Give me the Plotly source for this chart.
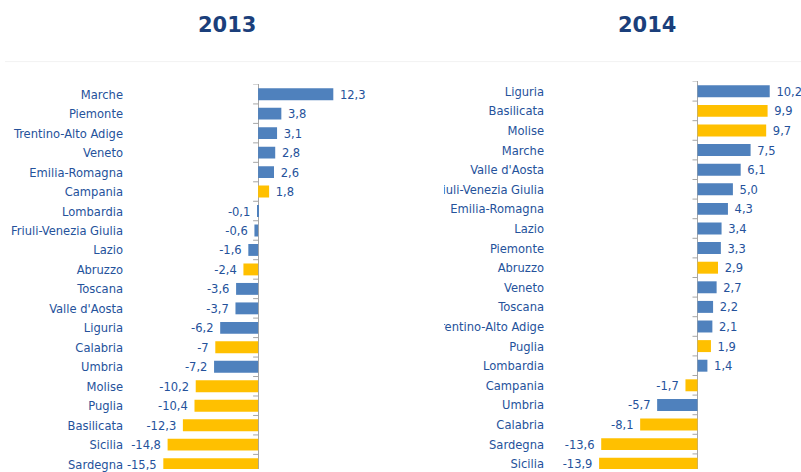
import plotly.graph_objects as go

# ---- data ----
regions_2013 = ["Marche", "Piemonte", "Trentino-Alto Adige", "Veneto", "Emilia-Romagna",
                "Campania", "Lombardia", "Friuli-Venezia Giulia", "Lazio", "Abruzzo",
                "Toscana", "Valle d'Aosta", "Liguria", "Calabria", "Umbria",
                "Molise", "Puglia", "Basilicata", "Sicilia", "Sardegna"]
values_2013 = [12.3, 3.8, 3.1, 2.8, 2.6, 1.8, -0.1, -0.6, -1.6, -2.4,
               -3.6, -3.7, -6.2, -7, -7.2, -10.2, -10.4, -12.3, -14.8, -15.5]

regions_2014 = ["Liguria", "Basilicata", "Molise", "Marche", "Valle d'Aosta",
                "Friuli-Venezia Giulia", "Emilia-Romagna", "Lazio", "Piemonte", "Abruzzo",
                "Veneto", "Toscana", "Trentino-Alto Adige", "Puglia", "Lombardia",
                "Campania", "Umbria", "Calabria", "Sardegna", "Sicilia"]
values_2014 = [10.2, 9.9, 9.7, 7.5, 6.1, 5.0, 4.3, 3.4, 3.3, 2.9,
               2.7, 2.2, 2.1, 1.9, 1.4, -1.7, -5.7, -8.1, -13.6, -13.9]

mezzogiorno = ["Abruzzo", "Molise", "Campania", "Puglia", "Basilicata",
               "Calabria", "Sicilia", "Sardegna"]

titles = ["2013", "2014"]

# ---- style ----
W, H = 801, 472
BLUE = "#4F81BD"
YELLOW = "#FFC000"
TXT = "#25529B"
TITLE = "#1B3F7B"
AXIS = "#A6A6A6"
FONT = "DejaVu Sans Condensed, DejaVu Sans, sans-serif"
FS = 12.8
NBSP = "\u00a0"


def colors(regs):
    return [YELLOW if r in mezzogiorno else BLUE for r in regs]


def fmt_g(v):
    return f"{v:g}".replace(".", ",")


def fmt_1(v):
    return f"{v:.1f}".replace(".", ",")


def pad(s, v):
    return (NBSP + s) if v >= 0 else (s + NBSP)


fig = go.Figure()

fig.add_trace(go.Bar(
    y=list(range(len(regions_2013))), x=values_2013, orientation="h",
    marker=dict(color=colors(regions_2013), line=dict(width=0)),
    text=[pad(fmt_g(v), v) for v in values_2013], textposition="outside",
    textfont=dict(family=FONT, size=FS, color=TXT), constraintext="none",
    cliponaxis=False, xaxis="x", yaxis="y", hoverinfo="skip", showlegend=False,
))
fig.add_trace(go.Bar(
    y=list(range(len(regions_2014))), x=values_2014, orientation="h",
    marker=dict(color=colors(regions_2014), line=dict(width=0)),
    text=[pad(fmt_1(v), v) for v in values_2014], textposition="outside",
    textfont=dict(family=FONT, size=FS, color=TXT), constraintext="none",
    cliponaxis=False, xaxis="x2", yaxis="y2", hoverinfo="skip", showlegend=False,
))

common_x = dict(showticklabels=False, showgrid=False, zeroline=True,
                zerolinecolor=AXIS, zerolinewidth=1, ticks="", fixedrange=True)
common_y = dict(showgrid=False, zeroline=False, ticks="", showline=False,
                ticklabeloverflow="allow",
                tickfont=dict(family=FONT, size=FS, color=TXT), fixedrange=True)

L0, Z0, S0 = 124, 258.1, 6.115
L1, Z1, S1 = 545, 697.5, 7.08

fig.update_layout(
    width=W, height=H,
    margin=dict(l=0, r=0, t=0, b=0),
    paper_bgcolor="white", plot_bgcolor="white",
    bargap=0.39,
    xaxis=dict(domain=[L0 / W, 380 / W], range=[-(Z0 - L0) / S0, (380 - Z0) / S0],
               anchor="y", **common_x),
    yaxis=dict(domain=[0, (H - 85) / H], range=[19.25, -0.5], anchor="x",
               tickvals=list(range(len(regions_2013))), ticktext=regions_2013, **common_y),
    xaxis2=dict(domain=[L1 / W, 1.0], range=[-(Z1 - L1) / S1, (W - Z1) / S1],
                anchor="y2", **common_x),
    yaxis2=dict(domain=[0, (H - 82) / H], range=[19.27, -0.5], anchor="x2",
                tickvals=list(range(len(regions_2014))), ticktext=regions_2014, **common_y),
)

shapes = []
# small category tick marks left of the zero axis
for xr, yr, n in (("x", "y", len(regions_2013)), ("x2", "y2", len(regions_2014))):
    for i in range(n + 1):
        shapes.append(dict(type="line", xref=xr, yref=yr, xsizemode="pixel", xanchor=0,
                           x0=-5, x1=0, y0=i - 0.5, y1=i - 0.5,
                           line=dict(color=AXIS, width=1)))
# faint separator under the titles
shapes.append(dict(type="line", xref="paper", yref="paper", x0=5 / W, x1=1,
                   y0=1 - 62 / H, y1=1 - 62 / H, line=dict(color="#F2F2F2", width=1)))
# left edge clipping of the right-hand panel
shapes.append(dict(type="rect", xref="paper", yref="paper", x0=392 / W, x1=444 / W,
                   y0=0, y1=1 - 70 / H, fillcolor="white", line=dict(width=0), layer="above"))
fig.update_layout(shapes=shapes)

for t, xc in zip(titles, (227, 647)):
    fig.add_annotation(text=f"<b>{t}</b>", xref="paper", yref="paper",
                       x=xc / W, y=1 - 25 / H, xanchor="center", yanchor="middle",
                       showarrow=False, font=dict(family="DejaVu Sans, sans-serif",
                                                  size=21, color=TITLE))

post = (
    "var de=document.documentElement, b=document.body;"
    "b.style.margin='0'; b.style.padding='0';"
    "de.style.overflow='hidden'; b.style.overflow='hidden';"
)
fig.write_html("out.html", config={"displayModeBar": False}, post_script=post)
